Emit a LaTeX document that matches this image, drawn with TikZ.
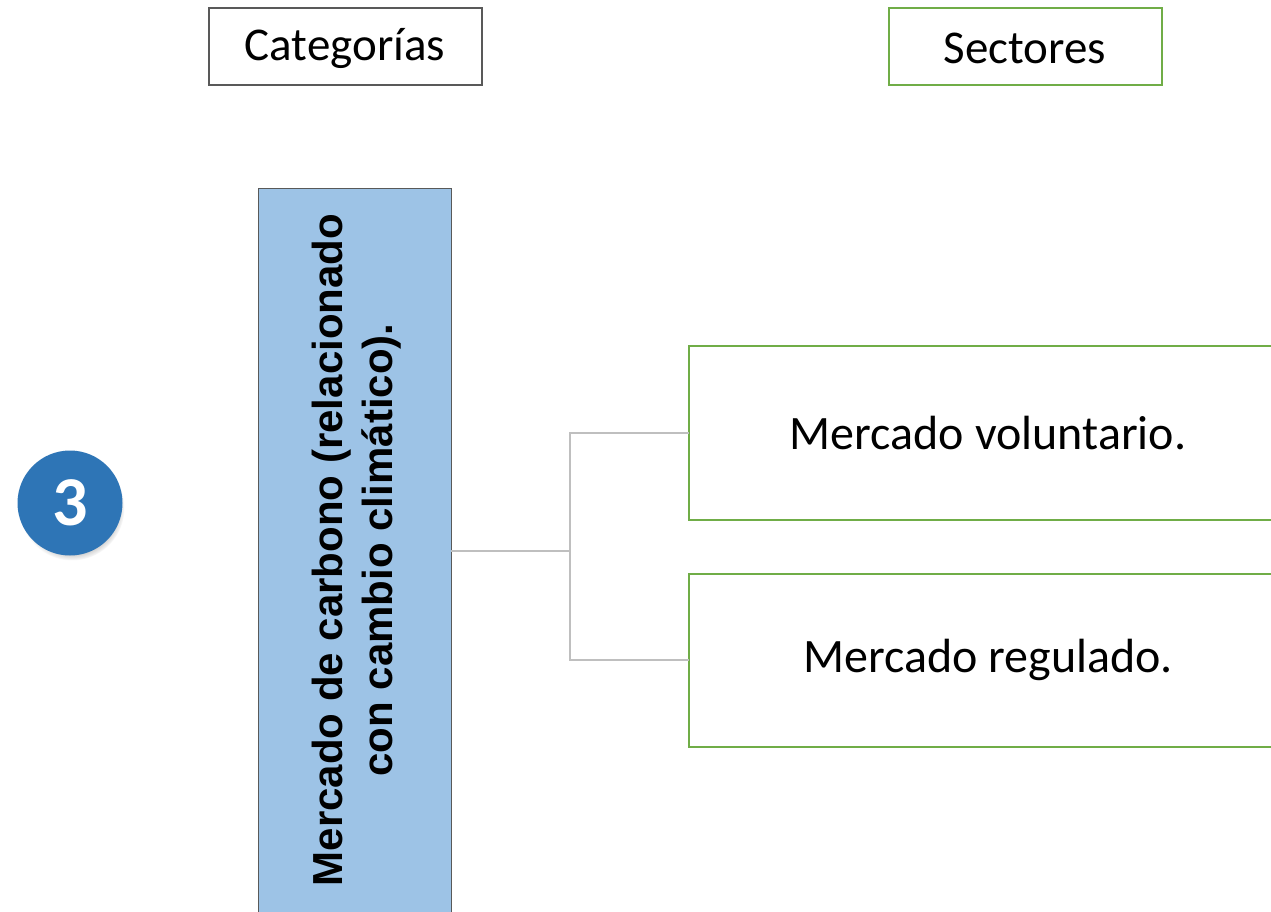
\documentclass[tikz,border=0pt]{standalone}
\usepackage{fontspec}
\setmainfont{Carlito}
\newfontfamily\boldarial{LiberationSans-Bold}
\usetikzlibrary{shadows}
\definecolor{grayborder}{HTML}{595959}
\definecolor{greenborder}{HTML}{70AD47}
\definecolor{bluefill}{HTML}{9DC3E6}
\definecolor{bluecircle}{HTML}{2E75B6}
\definecolor{connector}{HTML}{BFBFBF}
\tikzset{
  header/.style={draw, line width=2pt, minimum width=273pt, minimum height=77pt, inner sep=0pt, font=\fontsize{47}{56}\selectfont},
  sectorbox/.style={draw=greenborder, line width=2.5pt, inner sep=0pt},
  link/.style={draw=connector, line width=1.5pt},
  sectortext/.style={font=\fontsize{48}{57}\selectfont},
}
\begin{document}
\begin{tikzpicture}[x=1pt,y=-1pt]
\useasboundingbox (0,0) rectangle (1271,911);
\clip (0,0) rectangle (1271,911);
\fill[white] (0,0) rectangle (1271,911);
% headers
\node[header, draw=grayborder, text depth=0pt] (cat) at (345,46) {};
\node[font=\fontsize{47}{56}\selectfont] (cattxt) at (345,48) {Categorías};
\node[header, draw=greenborder] (sec) at (1025,46) {};
\node[font=\fontsize{47}{56}\selectfont] (sectxt) at (1025,48) {Sectores};
% circle
\node[circle, fill=bluecircle, minimum size=105pt, inner sep=0pt,
      circular drop shadow={shadow xshift=2pt, shadow yshift=-5pt, opacity=0.45, shadow scale=1.0},
      text=white, font=\fontsize{70}{80}\selectfont\bfseries] (num) at (70,503) {3};
% blue category box
\draw[fill=bluefill, draw=grayborder, line width=1pt] (258,188) rectangle (451,930);
\coordinate (catR) at (451,551);
\node[rotate=90, align=center, font=\boldarial\fontsize{42}{50}\selectfont] (cattext) at (357,550)
  {Mercado de carbono (relacionado\\con cambio climático).};
% sector boxes
\draw[sectorbox] (1290,346) -- (689,346) -- (689,520) -- (1290,520);
\draw[sectorbox] (1290,574) -- (689,574) -- (689,747) -- (1290,747);
\coordinate (s1) at (689,433);
\coordinate (s2) at (689,660);
\node[sectortext] (t1) at (988,433) {Mercado voluntario.};
\node[sectortext] (t2) at (988,660) {Mercado regulado.};
% connectors
\coordinate (mid) at (570,551);
\draw[link] (catR) -- (mid);
\draw[link] (s1) -- (570,433) -- (570,660) -- (s2);
\end{tikzpicture}
\end{document}
